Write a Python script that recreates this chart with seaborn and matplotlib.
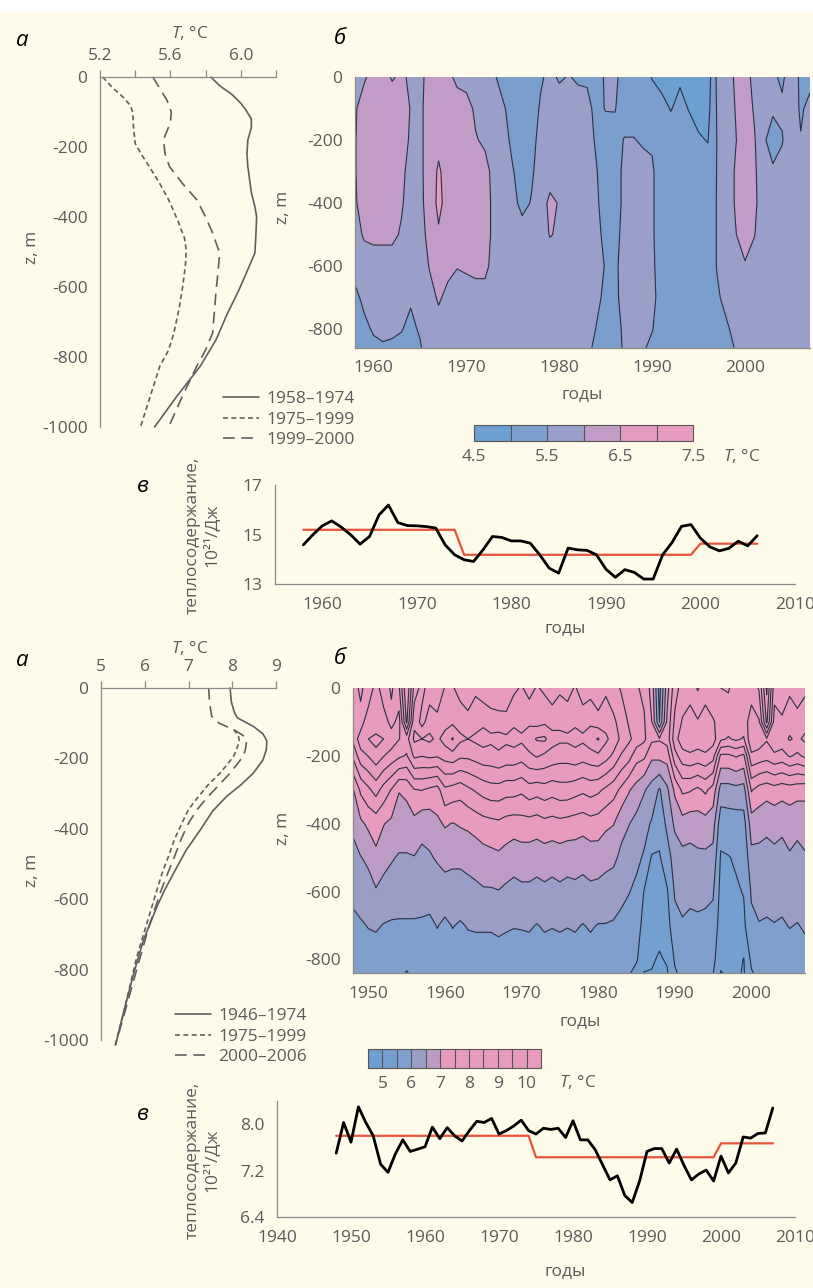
import numpy as np
import matplotlib
matplotlib.use("Agg")
import matplotlib.pyplot as plt
from matplotlib.lines import Line2D
from matplotlib.patches import Rectangle
import seaborn as sns

# ==========================================
# DATA
# ==========================================

# --- panel а (top): mean temperature profiles ---
a1_solid_t = [5.83, 5.88, 5.95, 6.0, 6.03, 6.06, 6.06, 6.04, 6.035, 6.04, 6.06, 6.08, 6.09,
              6.085, 6.08, 6.04, 5.99, 5.92, 5.86, 5.77, 5.64, 5.51]
a1_solid_z = [0, -25, -50, -75, -95, -120, -145, -180, -220, -256, -330, -370, -400,
              -460, -503, -550, -608, -680, -750, -826, -910, -1000]
a1_short_t = [5.215, 5.27, 5.33, 5.37, 5.386, 5.39, 5.40, 5.44, 5.48, 5.54, 5.59, 5.64,
              5.68, 5.69, 5.685, 5.67, 5.65, 5.62, 5.59, 5.54, 5.43]
a1_short_z = [0, -30, -57, -80, -100, -142, -190, -225, -256, -305, -351, -408,
              -460, -494, -540, -598, -660, -731, -780, -826, -1000]
a1_long_t = [5.50, 5.54, 5.58, 5.605, 5.60, 5.56, 5.57, 5.595, 5.67, 5.75, 5.80, 5.84,
             5.88, 5.87, 5.86, 5.85, 5.84, 5.80, 5.75, 5.67, 5.59]
a1_long_z = [0, -33, -66, -100, -130, -180, -220, -256, -305, -351, -400, -446,
             -503, -560, -608, -670, -731, -780, -826, -910, -1000]
a1_labels = ["1958–1974", "1975–1999", "1999–2000"]

# --- panel а (bottom) ---
a2_solid_t = [7.95, 7.98, 8.05, 8.12, 8.3, 8.48, 8.7, 8.79, 8.78, 8.7, 8.48, 8.2, 7.87,
              7.55, 7.27, 6.95, 6.66, 6.45, 6.28, 5.97, 5.75, 5.55, 5.33]
a2_solid_z = [0, -40, -70, -85, -97, -109, -130, -150, -175, -205, -242, -275, -308,
              -350, -403, -460, -526, -575, -621, -716, -810, -905, -1014]
a2_short_t = [8.03, 8.14, 8.16, 8.1, 8.03, 7.9, 7.72, 7.45, 7.23, 7.0, 6.85, 6.68, 6.54,
              6.4, 6.28, 6.05, 5.82, 5.55, 5.33]
a2_short_z = [-118, -135, -150, -175, -194, -215, -242, -275, -308, -345, -384, -430, -479,
              -525, -573, -668, -763, -905, -1014]
a2_long_t = [7.46, 7.48, 7.53, 7.7, 8.03, 8.25, 8.33, 8.3, 8.25, 8.12, 7.95, 7.7, 7.45,
             7.2, 7.0, 6.83, 6.68, 6.53, 6.38, 6.12, 5.9, 5.58, 5.33]
a2_long_z = [0, -40, -80, -100, -118, -135, -150, -175, -194, -215, -242, -275, -308,
             -345, -384, -430, -479, -525, -573, -668, -763, -905, -1014]
a2_labels = ["1946–1974", "1975–1999", "2000–2006"]

# --- panel б (top): temperature field, rows = depth, columns = years 1958-2007 ---
top_years = list(range(1958, 2008))
top_depths = [0, -100, -200, -300, -400, -500, -600, -700, -800, -860]
top_z0 = [5.85, 5.95, 6.15, 6.2, 5.95, 6.1, 5.9, 5.85, 6.2, 6.3,
          6.1, 5.9, 5.9, 5.85, 5.8, 5.55, 5.3, 5.2, 5.2, 5.25,
          5.45, 5.6, 5.45, 5.52, 5.45, 5.45, 5.35, 5.55, 5.6, 5.3,
          5.3, 5.2, 4.98, 4.85, 4.8, 4.95, 4.85, 4.75, 4.75, 5.6,
          5.85, 6.05, 6.2, 5.85, 5.75, 5.55, 5.45, 5.65, 5.45, 5.4]
top_z100 = [5.95, 6.2, 6.3, 6.3, 6.3, 6.2, 5.98, 5.85, 6.3, 6.35,
            6.3, 6.2, 6.1, 5.95, 5.9, 5.75, 5.55, 5.3, 5.25, 5.3,
            5.55, 5.7, 5.7, 5.7, 5.65, 5.6, 5.4, 5.52, 5.52, 5.3,
            5.3, 5.3, 5.2, 5.15, 4.98, 5.1, 4.98, 4.85, 4.85, 5.55,
            5.8, 6.02, 6.25, 5.95, 5.6, 5.55, 5.55, 5.7, 5.45, 5.6]
top_z200 = [5.97, 6.25, 6.3, 6.3, 6.3, 6.15, 5.95, 5.85, 6.3, 6.4,
            6.3, 6.3, 6.2, 6.02, 5.95, 5.8, 5.65, 5.4, 5.3, 5.4,
            5.6, 5.75, 5.75, 5.75, 5.7, 5.65, 5.45, 5.3, 5.35, 5.52,
            5.52, 5.45, 5.45, 5.3, 5.2, 5.2, 5.15, 5.05, 4.98, 5.52,
            5.75, 5.98, 6.25, 6.05, 5.55, 5.35, 5.48, 5.7, 5.52, 5.7]
top_z300 = [5.97, 6.25, 6.3, 6.3, 6.25, 6.1, 5.85, 5.85, 6.3, 6.55,
            6.35, 6.3, 6.25, 6.2, 6.1, 5.9, 5.7, 5.52, 5.35, 5.45,
            5.65, 5.8, 5.8, 5.75, 5.75, 5.7, 5.52, 5.3, 5.35, 5.58,
            5.7, 5.65, 5.55, 5.3, 5.25, 5.25, 5.25, 5.2, 5.2, 5.52,
            5.75, 6.05, 6.3, 6.1, 5.65, 5.55, 5.6, 5.7, 5.7, 5.75]
top_z400 = [5.95, 6.2, 6.25, 6.3, 6.2, 6.05, 5.8, 5.85, 6.25, 6.6,
            6.35, 6.3, 6.25, 6.2, 6.15, 5.9, 5.75, 5.6, 5.4, 5.52,
            5.8, 6.1, 5.97, 5.8, 5.75, 5.7, 5.55, 5.35, 5.35, 5.58,
            5.75, 5.75, 5.55, 5.3, 5.25, 5.25, 5.25, 5.25, 5.3, 5.52,
            5.75, 6.05, 6.3, 6.1, 5.75, 5.75, 5.75, 5.75, 5.75, 5.75]
top_z500 = [5.85, 6.05, 6.1, 6.1, 6.1, 5.95, 5.75, 5.8, 6.15, 6.45,
            6.3, 6.25, 6.2, 6.2, 6.15, 5.9, 5.75, 5.7, 5.65, 5.7,
            5.85, 6.02, 5.95, 5.8, 5.75, 5.7, 5.6, 5.4, 5.4, 5.6,
            5.75, 5.75, 5.55, 5.3, 5.25, 5.25, 5.25, 5.25, 5.3, 5.52,
            5.75, 5.98, 6.25, 6.02, 5.75, 5.75, 5.75, 5.75, 5.75, 5.75]
top_z600 = [5.65, 5.8, 5.8, 5.8, 5.8, 5.8, 5.7, 5.75, 6.02, 6.25,
            6.1, 6.02, 6.05, 6.1, 6.1, 5.85, 5.75, 5.75, 5.75, 5.75,
            5.8, 5.8, 5.8, 5.75, 5.75, 5.7, 5.6, 5.48, 5.45, 5.6,
            5.75, 5.75, 5.58, 5.3, 5.25, 5.25, 5.25, 5.3, 5.3, 5.52,
            5.7, 5.8, 5.95, 5.8, 5.75, 5.75, 5.75, 5.75, 5.75, 5.75]
top_z700 = [5.4, 5.6, 5.7, 5.7, 5.7, 5.65, 5.55, 5.65, 5.85, 6.05,
            5.9, 5.8, 5.85, 5.85, 5.85, 5.8, 5.75, 5.75, 5.75, 5.75,
            5.75, 5.75, 5.75, 5.75, 5.75, 5.7, 5.6, 5.4, 5.45, 5.58,
            5.75, 5.7, 5.6, 5.35, 5.25, 5.25, 5.25, 5.3, 5.35, 5.45,
            5.6, 5.75, 5.75, 5.75, 5.75, 5.75, 5.75, 5.75, 5.75, 5.75]
top_z800 = [5.3, 5.4, 5.55, 5.6, 5.55, 5.52, 5.4, 5.55, 5.75, 5.85,
            5.8, 5.75, 5.75, 5.75, 5.75, 5.75, 5.75, 5.75, 5.75, 5.75,
            5.75, 5.75, 5.75, 5.75, 5.75, 5.7, 5.48, 5.35, 5.4, 5.55,
            5.7, 5.6, 5.52, 5.3, 5.25, 5.25, 5.3, 5.3, 5.35, 5.4,
            5.45, 5.6, 5.75, 5.75, 5.75, 5.75, 5.75, 5.75, 5.75, 5.75]
top_z860 = [5.3, 5.35, 5.4, 5.45, 5.45, 5.4, 5.4, 5.45, 5.75, 5.8,
            5.8, 5.75, 5.75, 5.75, 5.75, 5.75, 5.75, 5.75, 5.75, 5.75,
            5.75, 5.75, 5.75, 5.75, 5.75, 5.6, 5.4, 5.3, 5.35, 5.55,
            5.65, 5.55, 5.4, 5.3, 5.25, 5.3, 5.3, 5.3, 5.35, 5.38,
            5.4, 5.52, 5.75, 5.75, 5.75, 5.75, 5.75, 5.75, 5.75, 5.75]
top_levels = [4.5, 5.0, 5.5, 6.0, 6.5, 7.0, 7.5]
top_colors = ['#6d9fd1', '#7b9fcd', '#999fc8', '#c29cc6', '#e49bc0', '#e89bc0']

# --- panel б (bottom): years 1948-2007 ---
bot_years = list(range(1948, 2008))
bot_depths = [0, -100, -150, -200, -300, -400, -500, -600, -700, -800, -840]
bot_z0 = [8.6, 9.2, 8.5, 9.3, 8.6, 9.1, 8.6, 7.0, 8.7, 9.2,
          8.7, 8.5, 9.05, 9.05, 8.8, 8.6, 8.9, 8.7, 8.55, 8.6,
          8.55, 8.9, 9.05, 8.8, 9.05, 8.9, 8.7, 8.9, 8.8, 9.05,
          8.7, 8.8, 8.6, 8.9, 8.7, 8.45, 8.3, 8.05, 7.9, 7.3,
          5.8, 7.3, 8.3, 8.7, 8.8, 8.45, 8.8, 8.6, 8.5, 8.45,
          8.8, 8.6, 8.8, 8.45, 6.9, 8.8, 8.6, 8.9, 8.7, 8.9]
bot_z100 = [8.9, 8.7, 9.4, 9.02, 9.3, 8.8, 9.2, 7.4, 9.4, 8.8,
            9.3, 9.2, 9.3, 9.4, 9.3, 9.2, 9.3, 9.4, 9.3, 9.2,
            9.2, 9.4, 9.3, 9.4, 9.3, 9.4, 9.3, 9.4, 9.3, 9.4,
            9.3, 9.4, 9.2, 9.3, 9.1, 8.8, 8.45, 8.2, 8.05, 7.5,
            6.0, 7.6, 8.6, 9.05, 9.2, 9.05, 9.2, 9.05, 8.8, 8.8,
            8.9, 8.8, 9.2, 9.05, 7.4, 9.2, 9.1, 9.3, 9.2, 9.3]
bot_z150 = [8.6, 9.3, 9.5, 9.7, 9.5, 9.3, 9.02, 8.8, 9.6, 9.5,
            9.6, 9.4, 9.7, 10.05, 9.6, 9.5, 9.6, 9.7, 9.6, 9.7,
            9.6, 9.7, 9.6, 9.8, 10.05, 10.1, 9.7, 9.6, 9.6, 9.7,
            9.6, 9.8, 10.05, 9.6, 9.3, 8.9, 8.6, 8.3, 8.1, 7.6,
            7.55, 7.7, 8.8, 9.3, 9.4, 9.3, 9.4, 9.2, 8.6, 8.45,
            8.6, 8.45, 9.4, 9.3, 9.05, 9.4, 9.3, 9.55, 9.4, 9.6]
bot_z200 = [8.1, 8.8, 9.02, 9.3, 9.02, 8.8, 8.6, 8.45, 9.1, 9.02,
            9.1, 9.05, 9.2, 9.3, 9.1, 9.1, 9.2, 9.3, 9.3, 9.4,
            9.3, 9.3, 9.2, 9.4, 9.55, 9.4, 9.3, 9.2, 9.2, 9.3,
            9.2, 9.3, 9.4, 9.2, 8.9, 8.45, 8.2, 7.7, 7.6, 7.1,
            7.15, 7.2, 8.3, 8.8, 8.9, 8.8, 8.9, 8.7, 7.4, 7.4,
            7.55, 7.4, 8.9, 8.8, 8.7, 8.9, 8.8, 9.05, 8.9, 9.1]
bot_z300 = [6.95, 7.6, 7.9, 8.2, 7.8, 7.48, 7.02, 7.1, 7.48, 7.52,
            7.4, 7.3, 7.9, 7.8, 7.7, 7.9, 8.05, 8.2, 8.3, 8.3,
            8.2, 8.2, 8.1, 8.3, 8.2, 8.3, 8.2, 8.3, 8.3, 8.2,
            8.1, 8.2, 8.1, 7.9, 7.7, 7.4, 7.05, 6.8, 6.55, 6.3,
            5.95, 6.4, 7.1, 7.6, 7.55, 7.4, 7.6, 7.3, 6.3, 6.3,
            6.35, 6.3, 7.55, 7.3, 7.2, 7.3, 7.2, 7.25, 7.2, 7.15]
bot_z400 = [6.6, 6.9, 7.1, 7.2, 7.02, 6.9, 6.8, 6.8, 6.85, 6.65,
            6.7, 6.9, 7.05, 6.98, 7.05, 7.1, 7.2, 7.3, 7.35, 7.4,
            7.3, 7.25, 7.3, 7.3, 7.25, 7.35, 7.3, 7.35, 7.3, 7.25,
            7.2, 7.3, 7.25, 7.1, 7.02, 6.65, 6.52, 6.35, 6.15, 5.95,
            5.7, 6.1, 6.6, 6.8, 6.7, 6.75, 6.8, 6.7, 5.7, 5.75,
            5.75, 5.8, 6.75, 6.7, 6.6, 6.65, 6.6, 6.7, 6.6, 6.7]
bot_z500 = [6.35, 6.48, 6.6, 6.9, 6.7, 6.55, 6.45, 6.45, 6.48, 6.4,
            6.45, 6.55, 6.65, 6.6, 6.6, 6.65, 6.7, 6.8, 6.85, 6.9,
            6.8, 6.7, 6.75, 6.75, 6.7, 6.75, 6.7, 6.75, 6.7, 6.72,
            6.65, 6.72, 6.75, 6.65, 6.6, 6.4, 6.25, 6.1, 5.95, 5.45,
            5.45, 5.8, 6.2, 6.35, 6.35, 6.4, 6.4, 6.35, 5.45, 5.48,
            5.55, 5.6, 6.35, 6.35, 6.35, 6.4, 6.35, 6.45, 6.4, 6.45]
bot_z600 = [6.1, 6.2, 6.3, 6.45, 6.3, 6.25, 6.2, 6.2, 6.2, 6.15,
            6.2, 6.25, 6.3, 6.3, 6.3, 6.35, 6.4, 6.45, 6.45, 6.48,
            6.4, 6.35, 6.4, 6.4, 6.35, 6.4, 6.35, 6.4, 6.35, 6.38,
            6.35, 6.4, 6.35, 6.3, 6.25, 6.1, 6.02, 5.9, 5.48, 5.35,
            5.3, 5.45, 6.05, 6.15, 6.1, 6.15, 6.1, 6.05, 5.35, 5.4,
            5.45, 5.52, 6.05, 6.15, 6.15, 6.2, 6.15, 6.2, 6.2, 6.25]
bot_z700 = [5.9, 5.95, 6.02, 6.05, 5.98, 5.95, 5.95, 5.95, 5.95, 5.95,
            5.9, 6.02, 5.9, 6.02, 5.95, 6.03, 6.05, 6.05, 6.05, 6.1,
            6.05, 6.02, 6.03, 6.05, 5.98, 6.05, 6.02, 6.05, 6.02, 6.05,
            5.98, 6.05, 5.98, 5.98, 5.95, 5.9, 5.8, 5.7, 5.35, 5.25,
            5.15, 5.3, 5.85, 5.95, 5.9, 5.9, 5.9, 5.85, 5.25, 5.3,
            5.35, 5.4, 5.9, 5.98, 5.95, 5.98, 5.95, 6.02, 5.98, 6.05]
bot_z800 = [5.75, 5.8, 5.8, 5.8, 5.8, 5.8, 5.8, 5.75, 5.8, 5.8,
            5.8, 5.8, 5.75, 5.8, 5.75, 5.8, 5.8, 5.8, 5.8, 5.8,
            5.8, 5.8, 5.8, 5.8, 5.8, 5.8, 5.8, 5.8, 5.75, 5.8,
            5.8, 5.8, 5.75, 5.75, 5.75, 5.7, 5.6, 5.55, 5.2, 5.05,
            4.95, 5.05, 5.55, 5.7, 5.7, 5.75, 5.7, 5.65, 5.1, 5.15,
            5.2, 4.98, 5.6, 5.7, 5.75, 5.75, 5.75, 5.8, 5.75, 5.85]
bot_z840 = [5.7, 5.75, 5.75, 5.7, 5.7, 5.7, 5.7, 5.45, 5.7, 5.7,
            5.7, 5.7, 5.7, 5.7, 5.7, 5.7, 5.7, 5.7, 5.7, 5.7,
            5.7, 5.7, 5.7, 5.7, 5.7, 5.7, 5.7, 5.7, 5.7, 5.7,
            5.7, 5.7, 5.7, 5.7, 5.7, 5.65, 5.55, 5.35, 4.98, 4.98,
            4.9, 4.95, 5.45, 5.6, 5.6, 5.6, 5.6, 5.52, 4.98, 5.05,
            5.1, 4.95, 5.45, 5.65, 5.7, 5.7, 5.7, 5.7, 5.7, 5.75]
bot_levels = [4.5, 5.0, 5.5, 6.0, 6.5, 7.0, 7.5, 8.0, 8.5, 9.0, 9.5, 10.0, 10.5]
bot_colors = ['#6d9fd1', '#749fcf', '#7fa0cd', '#9a9ec7', '#bc9cc5'] + ['#e69bbf'] * 7

# --- panel в (top): heat content 1958-2006 ---
hc1_years = list(range(1958, 2007))
hc1_values = [14.58, 14.99, 15.35, 15.55, 15.30, 14.99, 14.61, 14.92, 15.79, 16.19,
              15.48, 15.36, 15.35, 15.32, 15.26, 14.58, 14.18, 13.98, 13.91, 14.38,
              14.92, 14.88, 14.74, 14.74, 14.65, 14.18, 13.64, 13.44, 14.45, 14.38,
              14.36, 14.18, 13.60, 13.27, 13.58, 13.47, 13.20, 13.20, 14.18, 14.68,
              15.33, 15.40, 14.85, 14.50, 14.34, 14.44, 14.73, 14.54, 14.95]
hc1_step_years = [1958, 1974, 1975, 1999, 2000, 2006]
hc1_step_values = [15.19, 15.19, 14.18, 14.18, 14.63, 14.63]

# --- panel в (bottom): heat content 1948-2007 ---
hc2_years = list(range(1948, 2008))
hc2_values = [7.50, 8.03, 7.69, 8.30, 8.03, 7.80, 7.31, 7.17, 7.49, 7.73,
              7.53, 7.57, 7.61, 7.95, 7.75, 7.94, 7.80, 7.71, 7.89, 8.05,
              8.03, 8.10, 7.83, 7.89, 7.97, 8.07, 7.89, 7.83, 7.93, 7.91,
              7.93, 7.77, 8.06, 7.73, 7.73, 7.56, 7.30, 7.04, 7.11, 6.77,
              6.65, 7.02, 7.53, 7.58, 7.58, 7.33, 7.57, 7.29, 7.04, 7.14,
              7.21, 7.02, 7.45, 7.16, 7.33, 7.78, 7.76, 7.84, 7.85, 8.28]
hc2_step_years = [1948, 1974, 1975, 1999, 2000, 2007]
hc2_step_values = [7.80, 7.80, 7.43, 7.43, 7.67, 7.67]

# ==========================================
# STYLE
# ==========================================
sns.set_theme(style="white")
plt.rcParams['font.family'] = ['Open Sans', 'DejaVu Sans']
plt.rcParams['mathtext.fontset'] = 'custom'
plt.rcParams['mathtext.it'] = 'Open Sans:italic'
plt.rcParams['mathtext.rm'] = 'Open Sans'
plt.rcParams['axes.unicode_minus'] = False

BG = '#fffbea'
TXT = '#5a5a5a'
SPINE = '#8a8a8a'
PROF = '#5f5f5f'
EDGE = '#263040'
RED = '#e8553c'
FS = 12.5

W, H = 813, 1288
fig = plt.figure(figsize=(W / 100, H / 100), dpi=100)
fig.patch.set_facecolor(BG)
fig.add_artist(Rectangle((0, 1 - 10 / H), 1, 10 / H, transform=fig.transFigure,
                         color='white', zorder=0))


def box(l, t, r, b):
    return [l / W, 1 - b / H, (r - l) / W, (b - t) / H]


def ftext(x, y, s, **kw):
    kw.setdefault('color', TXT)
    kw.setdefault('fontsize', FS)
    fig.text(x / W, 1 - y / H, s, ha=kw.pop('ha', 'center'), va=kw.pop('va', 'center'), **kw)


def style_ticks(ax, **kw):
    ax.tick_params(which='both', direction='out', length=5, width=0.9, color=SPINE,
                   labelcolor=TXT, labelsize=FS, **kw)
    for s in ax.spines.values():
        s.set_color(SPINE)
        s.set_linewidth(0.9)


def profile_panel(ax, series, xlim, xmajor, xminor, fmt):
    ax.set_facecolor('none')
    for t, z, ls in series:
        sns.lineplot(x=t, y=z, sort=False, estimator=None, ax=ax, color=PROF,
                     linewidth=1.2, linestyle=ls, clip_on=False)
    ax.set_xlim(*xlim)
    ax.set_ylim(-1000, 0)
    ax.xaxis.tick_top()
    ax.set_xticks(xmajor)
    ax.set_xticks(xminor, minor=True)
    ax.set_xticklabels([fmt.format(v) for v in xmajor])
    ax.set_yticks(range(0, -1001, -200))
    ax.set_yticks(range(-100, -1000, -200), minor=True)
    ax.set_yticklabels([str(v) for v in range(0, -1001, -200)])
    for s in ['right', 'bottom']:
        ax.spines[s].set_visible(False)
    style_ticks(ax, pad=4)
    ax.set_xlabel('')
    ax.set_ylabel('')


def contour_panel(ax, years, depths, rows, levels, colors, xlim, ylim, xmaj, xmin, ymaj, ymin):
    grid = np.array(rows)
    cf = ax.contourf(years, depths, grid, levels=levels, colors=colors)
    ax.contour(years, depths, grid, levels=levels, colors=EDGE, linewidths=0.8)
    ax.set_xlim(*xlim)
    ax.set_ylim(*ylim)
    ax.set_xticks(xmaj)
    ax.set_xticks(xmin, minor=True)
    ax.set_yticks(ymaj)
    ax.set_yticks(ymin, minor=True)
    ax.set_yticklabels([str(v) for v in ymaj])
    for s in ['right', 'top']:
        ax.spines[s].set_visible(False)
    style_ticks(ax, pad=4)
    return cf


def heat_panel(ax, years, values, syears, svalues, xlim, ylim, ymaj, ymin, fmt):
    ax.set_facecolor('none')
    sns.lineplot(x=syears, y=svalues, ax=ax, color=RED, linewidth=1.6, estimator=None)
    sns.lineplot(x=years, y=values, ax=ax, color='black', linewidth=2.0, estimator=None)
    ax.set_xlim(*xlim)
    ax.set_ylim(*ylim)
    ax.set_xticks(range(xlim[0], xlim[1] + 1, 10))
    ax.set_xticks(range(xlim[0], xlim[1] + 1, 2), minor=True)
    ax.set_yticks(ymaj)
    ax.set_yticks(ymin, minor=True)
    ax.set_yticklabels([fmt.format(v) for v in ymaj])
    for s in ['right', 'top']:
        ax.spines[s].set_visible(False)
    style_ticks(ax, pad=4)
    ax.tick_params(axis='x', which='minor', length=4)
    ax.set_xlabel('')
    ax.set_ylabel('')


def colorbar(cf, cax, ticks, labels):
    cb = fig.colorbar(cf, cax=cax, orientation='horizontal', drawedges=True)
    cb.set_ticks(ticks, labels=labels)
    cb.ax.tick_params(length=0, labelsize=FS, labelcolor=TXT, pad=6)
    cb.outline.set_edgecolor('#555555')
    cb.outline.set_linewidth(0.8)
    cb.dividers.set_color('#555555')
    cb.dividers.set_linewidth(0.8)


SOLID, SHORT, LONG = '-', (0, (3, 2)), (0, (7, 4))

# ==========================================
# TOP HALF
# ==========================================
ax_a1 = fig.add_axes(box(100, 77, 276, 427))
profile_panel(ax_a1, [(a1_solid_t, a1_solid_z, SOLID), (a1_short_t, a1_short_z, SHORT),
                      (a1_long_t, a1_long_z, LONG)],
              (5.2, 6.2), [5.2, 5.6, 6.0], [5.4, 5.8, 6.2], "{:.1f}")

ax_b1 = fig.add_axes(box(355, 77, 810, 348))
top_rows = [top_z0, top_z100, top_z200, top_z300, top_z400, top_z500,
            top_z600, top_z700, top_z800, top_z860]
cf1 = contour_panel(ax_b1, top_years, top_depths, top_rows, top_levels, top_colors,
                    (1958, 2007), (-860, 0), range(1960, 2001, 10), range(1965, 2006, 10),
                    list(range(0, -801, -200)), list(range(-100, -801, -200)))

cax1 = fig.add_axes(box(474, 425, 693, 441))
colorbar(cf1, cax1, [4.5, 5.5, 6.5, 7.5], ['4.5', '5.5', '6.5', '7.5'])

ax_c1 = fig.add_axes(box(275, 485, 795, 584))
heat_panel(ax_c1, hc1_years, hc1_values, hc1_step_years, hc1_step_values,
           (1955, 2010), (13, 17), [13, 15, 17], [14, 16], "{:.0f}")
ax_c1.set_xticks(range(1960, 2011, 10))
ax_c1.set_xticks(range(1956, 2011, 2), minor=True)

# ==========================================
# BOTTOM HALF
# ==========================================
ax_a2 = fig.add_axes(box(101, 688, 276, 1040))
profile_panel(ax_a2, [(a2_solid_t, a2_solid_z, SOLID), (a2_short_t, a2_short_z, SHORT),
                      (a2_long_t, a2_long_z, LONG)],
              (5, 9), [5, 6, 7, 8, 9], [], "{:.0f}")

ax_b2 = fig.add_axes(box(353, 688, 805, 973))
bot_rows = [bot_z0, bot_z100, bot_z150, bot_z200, bot_z300, bot_z400, bot_z500,
            bot_z600, bot_z700, bot_z800, bot_z840]
cf2 = contour_panel(ax_b2, bot_years, bot_depths, bot_rows, bot_levels, bot_colors,
                    (1948, 2007), (-840, 0), range(1950, 2001, 10), range(1955, 2006, 10),
                    list(range(0, -801, -200)), list(range(-100, -801, -200)))

cax2 = fig.add_axes(box(368, 1049, 541, 1068))
colorbar(cf2, cax2, [5, 6, 7, 8, 9, 10], ['5', '6', '7', '8', '9', '10'])

ax_c2 = fig.add_axes(box(277, 1101, 795, 1217))
heat_panel(ax_c2, hc2_years, hc2_values, hc2_step_years, hc2_step_values,
           (1940, 2010), (6.4, 8.4), [6.4, 7.2, 8.0], [6.8, 7.6, 8.4], "{:.1f}")

# ==========================================
# TEXT
# ==========================================
ital = dict(style='italic', color='black', fontsize=16)
for y0 in (0, 620):
    ftext(22, 40 + y0, 'а', **ital)
    ftext(340, 38 + y0, 'б', **ital)
ftext(143, 487, 'в', **ital)
ftext(143, 1114, 'в', **ital)

ftext(190, 33, r'$T$, °C')
ftext(190, 648, r'$T$, °C')
ftext(32, 247, 'z, m', rotation=90)
ftext(283, 207, 'z, m', rotation=90)
ftext(32, 870, 'z, m', rotation=90)
ftext(283, 828, 'z, m', rotation=90)
ftext(582, 394, 'годы')
ftext(565, 628, 'годы')
ftext(580, 1021, 'годы')
ftext(565, 1271, 'годы')
ftext(742, 456, r'$T$, °C')
ftext(578, 1082, r'$T$, °C')
ftext(202, 535, 'теплосодержание,\n10²¹/Дж', rotation=90, linespacing=1.15)
ftext(202, 1160, 'теплосодержание,\n10²¹/Дж', rotation=90, linespacing=1.15)

# legends
for labels, x0, y0 in [(a1_labels, 223, 391), (a2_labels, 175, 1008)]:
    handles = [Line2D([], [], color=PROF, lw=1.2, linestyle=ls) for ls in (SOLID, SHORT, LONG)]
    fig.legend(handles, labels, loc='upper left', bbox_to_anchor=(x0 / W, 1 - y0 / H),
               frameon=False, fontsize=FS, labelcolor=TXT, handlelength=2.1,
               handletextpad=0.4, labelspacing=0.25, borderpad=0, borderaxespad=0)

fig.savefig('out.png', dpi=100, facecolor=fig.get_facecolor())
print("saved out.png")
